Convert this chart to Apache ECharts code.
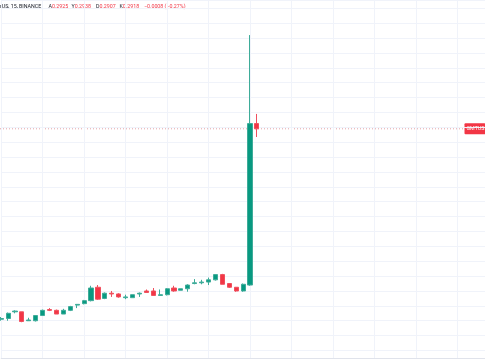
<!DOCTYPE html>
<html><head><meta charset="utf-8">
<script src="https://cdn.jsdelivr.net/npm/echarts@6/dist/echarts.min.js"></script>
<style>html,body{margin:0;padding:0;background:#fff}#c{width:485px;height:360px}</style>
</head><body><div id="c"></div>
<script>
// 15-minute candles (GMT / TetherUS, BINANCE)
const categories = ["06:00","06:15","06:30","06:45","07:00","07:15","07:30","07:45","08:00","08:15",
  "08:30","08:45","09:00","09:15","09:30","09:45","10:00","10:15","10:30","10:45",
  "11:00","11:15","11:30","11:45","12:00","12:15","12:30","12:45","13:00","13:15",
  "13:30","13:45","14:00","14:15","14:30","14:45","15:00","15:15"];
const opens  = [0.2662,0.2663,0.2672,0.2672,0.2660,0.2660,0.2667,0.2675,0.2674,0.2669,
  0.2674,0.2681,0.2683,0.2687,0.2705,0.2690,0.2697,0.2696,0.2691,0.2691,
  0.2696,0.2700,0.2700,0.2694,0.2695,0.2704,0.2701,0.2703,0.2710,0.2711,
  0.2712,0.2715,0.2722,0.2710,0.2705,0.2700,0.2708,0.2925];
const closes = [0.2663,0.2670,0.2673,0.2659,0.2661,0.2667,0.2674,0.2674,0.2669,0.2674,
  0.2679,0.2682,0.2687,0.2704,0.2689,0.2697,0.2696,0.2692,0.2692,0.2695,
  0.2697,0.2698,0.2694,0.2695,0.2703,0.2700,0.2703,0.2708,0.2711,0.2712,
  0.2715,0.2722,0.2709,0.2705,0.2700,0.2709,0.2925,0.2918];
const lows   = [0.2660,0.2660,0.2670,0.2658,0.2660,0.2659,0.2667,0.2673,0.2669,0.2669,
  0.2673,0.2677,0.2682,0.2686,0.2688,0.2689,0.2692,0.2691,0.2689,0.2691,
  0.2692,0.2698,0.2694,0.2694,0.2694,0.2699,0.2701,0.2699,0.2709,0.2709,
  0.2708,0.2714,0.2709,0.2704,0.2699,0.2699,0.2707,0.2907];
const highs  = [0.2665,0.2671,0.2674,0.2672,0.2664,0.2667,0.2675,0.2677,0.2675,0.2676,
  0.2680,0.2682,0.2688,0.2707,0.2708,0.2698,0.2700,0.2697,0.2695,0.2695,
  0.2698,0.2702,0.2704,0.2702,0.2704,0.2707,0.2703,0.2709,0.2716,0.2715,
  0.2718,0.2722,0.2723,0.2710,0.2705,0.2710,0.3044,0.2938];
const futureSlots = 33;
const lastPrice = 0.2918;
const headerSymbol = "rUS, 15, BINANCE";
const headerFields = [["A","0.2925"],["Y","0.2938"],["D","0.2907"],["K","0.2918"]];
const headerChange = "\u22120.0008 (\u22120.27%)";
const priceTag = "GMTUS";

const UP = '#089981', DOWN = '#f23645', GRID = '#f0f3fa';
const allCats = categories.concat(Array.from({length: futureSlots}, (_, i) => 'f' + i));
const ohlc = opens.map((o, i) => [o, closes[i], lows[i], highs[i]]);

const FONT = 'Roboto', FS = 5.3;
const fieldX = [48.5, 71.5, 96, 119.5];
const baseGraphics = [
  {type:'text', x:0, y:7, style:{text:headerSymbol, fill:'#131722', fontSize:FS, fontFamily:FONT, verticalAlign:'middle'}},
  ...headerFields.map((f, i) => ({type:'text', x:fieldX[i], y:7, style:{
    text:'{l|' + f[0] + '}{v|' + f[1] + '}', verticalAlign:'middle', fontSize:FS, fontFamily:FONT,
    rich:{l:{fill:'#131722', fontSize:FS, fontFamily:FONT}, v:{fill:DOWN, fontSize:FS, fontFamily:FONT}}}})),
  {type:'text', x:144, y:7, style:{text:headerChange, fill:DOWN, fontSize:FS, fontFamily:FONT, verticalAlign:'middle'}},
];

const chart = echarts.init(document.getElementById('c'), null, {renderer:'canvas'});
chart.setOption({
  animation:false,
  backgroundColor:'#ffffff',
  grid:[
    {left:1.2, top:0, width:485.1, height:350.5},
    {left:1.2, top:350.5, width:485.1, height:7.5}
  ],
  xAxis:[
    {type:'category', gridIndex:0, data:allCats, boundaryGap:false,
     axisLine:{show:false}, axisTick:{show:false}, axisLabel:{show:false},
     splitLine:{show:true, interval:5, lineStyle:{color:GRID, width:1}}},
    {type:'category', gridIndex:1, data:allCats, boundaryGap:false,
     axisLine:{show:true, lineStyle:{color:'#e0e3eb', width:1}}, axisTick:{show:false}, axisLabel:{show:false},
     splitLine:{show:true, interval:5, lineStyle:{color:GRID, width:1}}}
  ],
  yAxis:[
    {type:'value', gridIndex:0, min:0.262, max:0.309113, interval:0.002,
     axisLine:{show:false}, axisTick:{show:false}, axisLabel:{show:false},
     splitLine:{show:true, lineStyle:{color:GRID, width:1}}},
    {type:'value', gridIndex:1, show:false, splitLine:{show:false}}
  ],
  series:[{
    type:'candlestick', xAxisIndex:0, yAxisIndex:0, data:ohlc, barWidth:4.6, clip:false,
    itemStyle:{color:UP, color0:DOWN, borderColor:'#3eac99', borderColor0:'#f0505e', borderColorDoji:'#3eac99', borderWidth:1, opacity:1}
  }],
  graphic:baseGraphics
});
// last-price line and tag, positioned through the axis scale
const ty = chart.convertToPixel({yAxisIndex:0}, lastPrice);
chart.setOption({graphic:baseGraphics.concat([
  {type:'line', shape:{x1:0, y1:ty, x2:465, y2:ty}, style:{stroke:'#e3a3a8', lineWidth:1, lineDash:[1,2]}, z:-1},
  {type:'rect', shape:{x:464.5, y:ty-5.5, width:21, height:11, r:1}, style:{fill:DOWN}},
  {type:'text', x:466.5, y:ty, style:{text:priceTag, fill:'#ffffff', fontSize:FS, fontFamily:FONT, verticalAlign:'middle'}}
])});
</script></body></html>
